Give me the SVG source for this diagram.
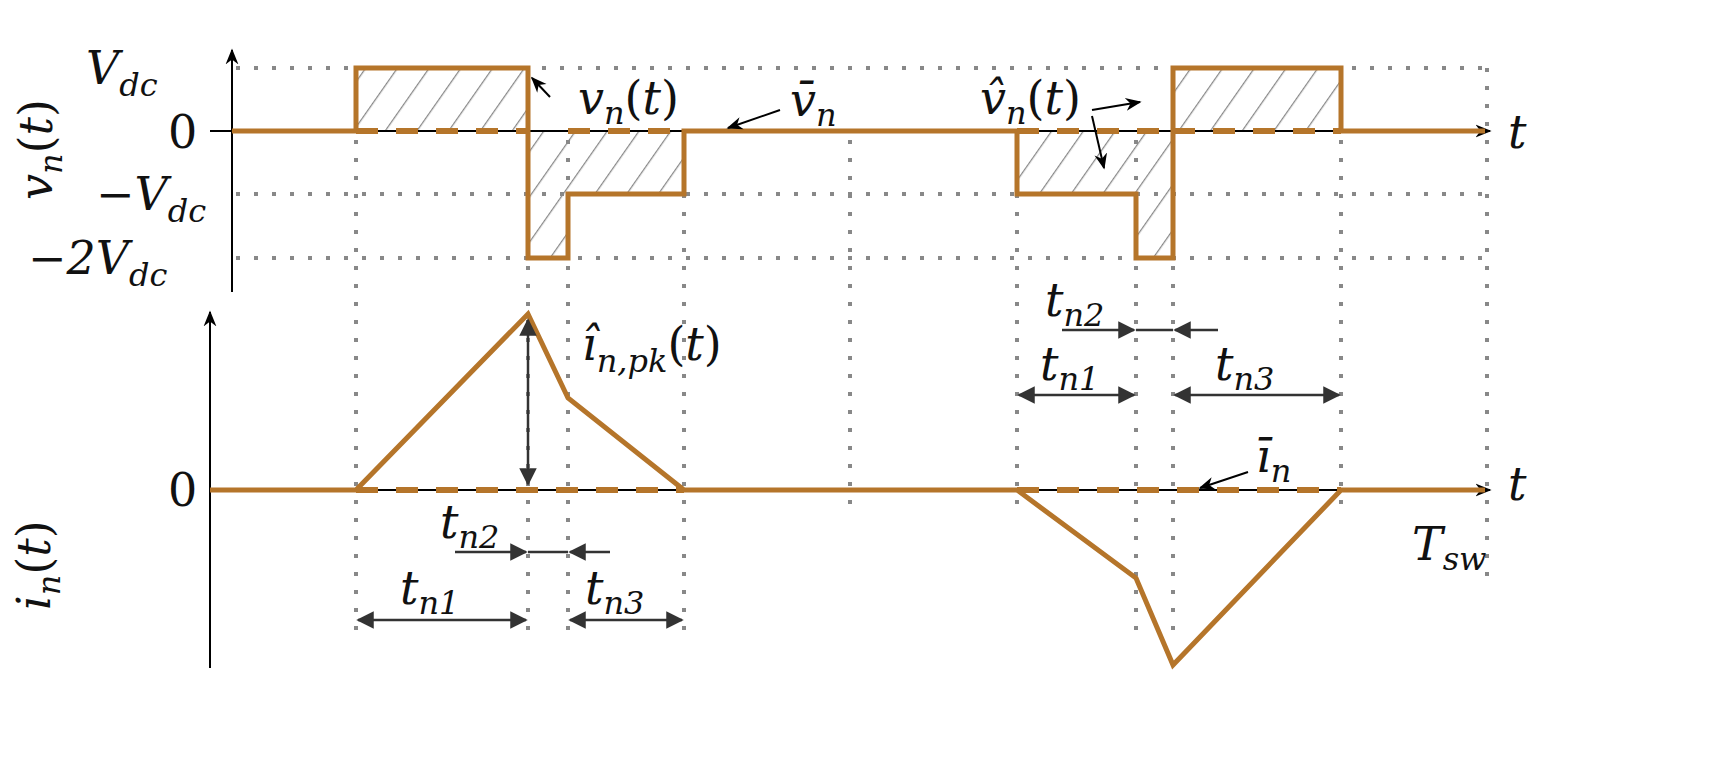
<svg xmlns="http://www.w3.org/2000/svg" width="1734" height="772" viewBox="0 0 1734 772">
<style>
.grid{stroke:#888;stroke-width:4;stroke-dasharray:4 14;fill:none}
.wave{stroke:#b5752a;stroke-width:5;fill:none;stroke-linejoin:miter}
.dash{stroke:#b5752a;stroke-width:6;stroke-dasharray:22 18;fill:none}
.ax{stroke:#000;stroke-width:2;fill:none}
.dim{stroke:#333;stroke-width:2.5;fill:none}
.m{font-family:"DejaVu Serif","Liberation Serif",serif;font-style:italic;font-size:46px;fill:#111}
.n{font-family:"DejaVu Serif","Liberation Serif",serif;font-size:46px;fill:#111}
.s{font-size:32px}
</style>
<defs>
<pattern id="h" patternUnits="userSpaceOnUse" width="26" height="26" patternTransform="rotate(35)">
<line x1="0" y1="0" x2="0" y2="26" stroke="#888" stroke-width="2.5"/>
</pattern>
<marker id="a" viewBox="0 0 10 10" refX="9" refY="5" markerWidth="7" markerHeight="7" orient="auto-start-reverse"><path d="M0,0L10,5L0,10z" fill="#333"/></marker>
<marker id="k" viewBox="0 0 10 10" refX="9" refY="5" markerWidth="8" markerHeight="8" orient="auto"><path d="M0,1L10,5L0,9L3,5z" fill="#000"/></marker>
</defs>
<g id="grid">
<path class="grid" d="M236 68H1490M236 194H1490M236 258H1490"/>
<path class="grid" d="M356 140V640M528 140V640M568 140V640M684 140V640M850 140V505M1017 140V505M1136 140V640M1173 140V640M1341 140V505M1487 68V580"/>
</g>
<g id="hatch">
<rect x="356" y="68" width="172" height="63" fill="url(#h)"/>
<path d="M528 131H684V194H568V258H528z" fill="url(#h)"/>
<path d="M1017 131H1173V258H1136V194H1017z" fill="url(#h)"/>
<rect x="1173" y="68" width="168" height="63" fill="url(#h)"/>
</g>
<g id="axes">
<line class="ax" x1="210" y1="131" x2="1490" y2="131" marker-end="url(#k)"/>
<line class="ax" x1="232" y1="292" x2="232" y2="50" marker-end="url(#k)"/>
<line class="ax" x1="210" y1="490" x2="1490" y2="490" marker-end="url(#k)"/>
<line class="ax" x1="210" y1="668" x2="210" y2="312" marker-end="url(#k)"/>
</g>
<g id="waves">
<path class="wave" d="M232 131H356V68H528V258H568V194H684V131H1017V194H1136V258H1173V68H1341V131H1485"/>
<path class="dash" d="M356 131H528M568 131H684M1017 131H1173M1173 131H1341"/>
<path class="wave" d="M210 490H356L528 314L568 398L684 490H1017L1136 578L1173 665L1341 490H1485"/>
<path class="dash" d="M356 490H684M1017 490H1341"/>
</g>
<g id="connectors">
<line class="dim" x1="528" y1="484" x2="528" y2="320" marker-start="url(#a)" marker-end="url(#a)"/>
<line class="dim" x1="358" y1="620" x2="526" y2="620" marker-start="url(#a)" marker-end="url(#a)"/>
<line class="dim" x1="570" y1="620" x2="682" y2="620" marker-start="url(#a)" marker-end="url(#a)"/>
<line class="dim" x1="455" y1="552" x2="526" y2="552" marker-end="url(#a)"/>
<line class="dim" x1="528" y1="552" x2="568" y2="552"/>
<line class="dim" x1="610" y1="552" x2="570" y2="552" marker-end="url(#a)"/>
<line class="dim" x1="1062" y1="330" x2="1134" y2="330" marker-end="url(#a)"/>
<line class="dim" x1="1136" y1="330" x2="1173" y2="330"/>
<line class="dim" x1="1218" y1="330" x2="1175" y2="330" marker-end="url(#a)"/>
<line class="dim" x1="1019" y1="395" x2="1134" y2="395" marker-start="url(#a)" marker-end="url(#a)"/>
<line class="dim" x1="1175" y1="395" x2="1339" y2="395" marker-start="url(#a)" marker-end="url(#a)"/>
<line class="ax" x1="550" y1="97" x2="532" y2="78" marker-end="url(#k)"/>
<line class="ax" x1="780" y1="110" x2="728" y2="128" marker-end="url(#k)"/>
<line class="ax" x1="1092" y1="110" x2="1140" y2="102" marker-end="url(#k)"/>
<line class="ax" x1="1092" y1="116" x2="1104" y2="168" marker-end="url(#k)"/>
<line class="ax" x1="1248" y1="472" x2="1200" y2="488" marker-end="url(#k)"/>
</g>
<g id="labels">
<text class="m" x="86" y="84">V<tspan class="s" dy="12">dc</tspan></text>
<text class="n" x="168" y="148">0</text>
<text class="m" x="96" y="210">−V<tspan class="s" dy="12">dc</tspan></text>
<text class="m" x="28" y="274">−2V<tspan class="s" dy="12">dc</tspan></text>
<text class="m" transform="translate(52,200) rotate(-90)">v<tspan class="s" dy="10">n</tspan><tspan dy="-10" font-style="normal">(</tspan>t<tspan font-style="normal">)</tspan></text>
<text class="n" x="168" y="506">0</text>
<text class="m" transform="translate(50,610) rotate(-90)">i<tspan class="s" dy="10">n</tspan><tspan dy="-10" font-style="normal">(</tspan>t<tspan font-style="normal">)</tspan></text>
<text class="m" x="578" y="114">v<tspan class="s" dy="10">n</tspan><tspan dy="-10" font-style="normal">(</tspan>t<tspan font-style="normal">)</tspan></text>
<text class="m" x="790" y="116">v̄<tspan class="s" dy="10">n</tspan></text>
<text class="m" x="980" y="114">v̂<tspan class="s" dy="10">n</tspan><tspan dy="-10" font-style="normal">(</tspan>t<tspan font-style="normal">)</tspan></text>
<text class="m" x="1508" y="148">t</text>
<text class="m" x="1508" y="500">t</text>
<text class="m" x="1412" y="560">T<tspan class="s" dy="10">sw</tspan></text>
<text class="m" x="582" y="360">î<tspan class="s" dy="12">n,pk</tspan><tspan dy="-12" font-style="normal">(</tspan>t<tspan font-style="normal">)</tspan></text>
<text class="m" x="1256" y="472">ī<tspan class="s" dy="10">n</tspan></text>
<text class="m" x="440" y="538">t<tspan class="s" dy="10">n2</tspan></text>
<text class="m" x="400" y="604">t<tspan class="s" dy="10">n1</tspan></text>
<text class="m" x="585" y="604">t<tspan class="s" dy="10">n3</tspan></text>
<text class="m" x="1045" y="316">t<tspan class="s" dy="10">n2</tspan></text>
<text class="m" x="1040" y="380">t<tspan class="s" dy="10">n1</tspan></text>
<text class="m" x="1215" y="380">t<tspan class="s" dy="10">n3</tspan></text>
</g>
</svg>
